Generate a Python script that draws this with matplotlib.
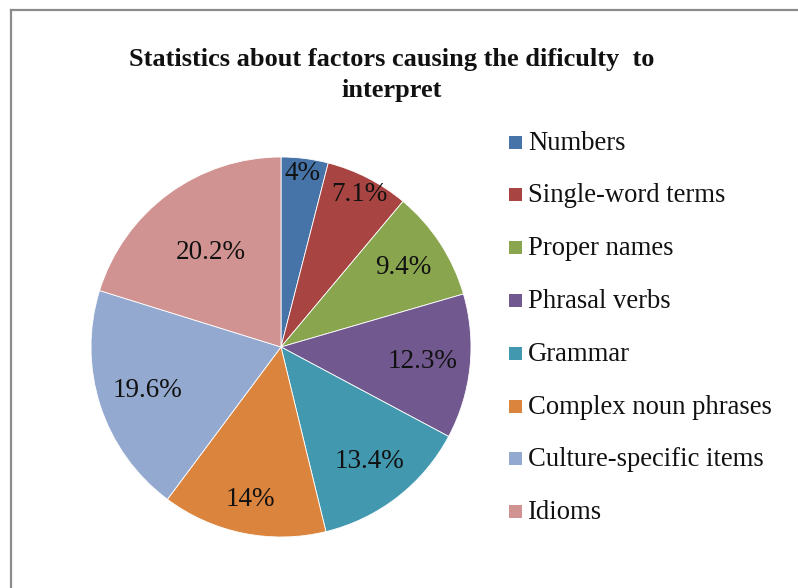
import numpy as np
import matplotlib
matplotlib.use("Agg")
import matplotlib.pyplot as plt
from matplotlib.patches import Rectangle
from matplotlib.lines import Line2D

plt.rcParams["font.family"] = ["Liberation Serif", "DejaVu Serif"]

categories = ["Numbers", "Single-word terms", "Proper names", "Phrasal verbs",
              "Grammar", "Complex noun phrases", "Culture-specific items", "Idioms"]
shares = [4, 7.1, 9.4, 12.3, 13.4, 14, 19.6, 20.2]
pct_labels = ["4%", "7.1%", "9.4%", "12.3%", "13.4%", "14%", "19.6%", "20.2%"]
colors = ["#4674A8", "#A84542", "#89A54E", "#71588F",
          "#4198AF", "#DB843D", "#93A9CF", "#D19392"]
# radial position of each data label (fraction of radius)
label_r = [0.92, 0.90, 0.77, 0.75, 0.76, 0.82, 0.74, 0.62]

W, H = 798, 588
fig = plt.figure(figsize=(W / 100, H / 100), dpi=100)

# pie: centre (281, 347) px, radius 190 px
cx, cy, r = 281, 347, 190
ax = fig.add_axes([(cx - r) / W, (H - cy - r) / H, 2 * r / W, 2 * r / H])
wedges, _ = ax.pie(shares, colors=colors, startangle=90, counterclock=False,
                   radius=1, wedgeprops={"edgecolor": "white", "linewidth": 0.6})
ax.set_xlim(-1, 1)
ax.set_ylim(-1, 1)
ax.set_aspect("equal")
ax.axis("off")

for w, lbl, d in zip(wedges, pct_labels, label_r):
    ang = np.deg2rad((w.theta1 + w.theta2) / 2)
    ax.text(d * np.cos(ang), d * np.sin(ang), lbl, ha="center", va="center",
            fontsize=19.5, color="#111111")

fig.text(392 / W, 1 - 75 / H, "Statistics about factors causing the dificulty  to\ninterpret",
         ha="center", va="center", fontsize=19, fontweight="bold",
         linespacing=1.4, color="#111111")

# legend
for i, (name, c) in enumerate(zip(categories, colors)):
    y = 142 + i * 52.8
    fig.patches.append(Rectangle((509 / W, 1 - (y + 6.5) / H), 13 / W, 13 / H,
                                 transform=fig.transFigure, facecolor=c,
                                 edgecolor="none"))
    fig.text(528 / W, 1 - (y + 1) / H, name, ha="left", va="center",
             fontsize=19.2, color="#111111")

# frame on top and left
fig.add_artist(Line2D([11 / W, 11 / W], [0, 1 - 10 / H], transform=fig.transFigure,
                      color="#8c8c8c", lw=1.6))
fig.add_artist(Line2D([11 / W, 1], [1 - 10 / H, 1 - 10 / H], transform=fig.transFigure,
                      color="#8c8c8c", lw=1.6))

fig.savefig("out.png", dpi=100)
